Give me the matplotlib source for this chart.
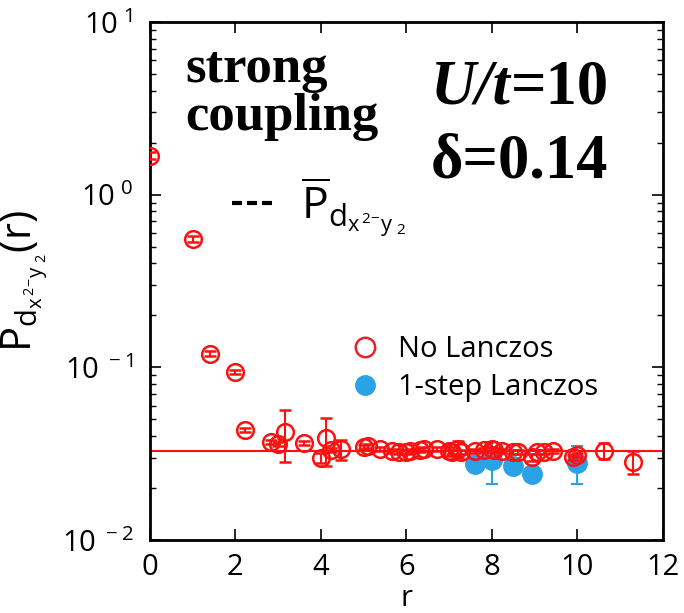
import matplotlib
matplotlib.use("Agg")
import matplotlib.pyplot as plt
from matplotlib.lines import Line2D

plt.rcParams['font.family'] = ['Open Sans', 'DejaVu Sans']
plt.rcParams['mathtext.fontset'] = 'custom'
plt.rcParams['mathtext.rm'] = 'Open Sans'
plt.rcParams['mathtext.it'] = 'Open Sans'

# No Lanczos data
r_no = [0, 1, 1.414, 2, 2.236, 2.828, 3, 3.162, 3.606, 4, 4.123, 4.243, 4.472,
        5, 5.099, 5.385, 5.657, 5.831, 6, 6.083, 6.325, 6.403, 6.708, 7, 7.071,
        7.211, 7.280, 7.616, 7.810, 8, 8.062, 8.246, 8.485, 8.602, 8.944, 9.055,
        9.220, 9.434, 9.899, 10, 10.630, 11.314]
p_no = [1.68, 0.554, 0.120, 0.094, 0.0434, 0.0370, 0.0360, 0.0423, 0.0365, 0.0299,
        0.0390, 0.0333, 0.0337, 0.0345, 0.0350, 0.0337, 0.0328, 0.0324, 0.0324,
        0.0328, 0.0333, 0.0337, 0.0337, 0.0328, 0.0324, 0.0337, 0.0324, 0.0328,
        0.0333, 0.0337, 0.0333, 0.0328, 0.0324, 0.0324, 0.0302, 0.0324, 0.0324,
        0.0328, 0.0302, 0.0311, 0.0328, 0.0283]
e_no = [0.08, 0.02, 0.004, 0.003, 0.001, 0.001, 0.001, 0.014, 0.001, 0.002,
        0.012, 0.001, 0.0045, 0.001, 0.001, 0.001, 0.001, 0.001, 0.001, 0.001,
        0.001, 0.001, 0.001, 0.002, 0.001, 0.004, 0.001, 0.001, 0.001, 0.001,
        0.001, 0.001, 0.001, 0.001, 0.0015, 0.001, 0.001, 0.001, 0.001, 0.001,
        0.0035, 0.0043]

# 1-step Lanczos data
r_lz = [7.616, 8.0, 8.485, 8.944, 10.0]
p_lz = [0.0276, 0.0290, 0.0268, 0.0241, 0.0280]
e_lz = [0.001, 0.008, 0.001, 0.001, 0.007]

p_bar = 0.033

red = '#ff1010'
blue = '#2aa3e6'

fig = plt.figure(figsize=(6.84, 6.13), dpi=100)
ax = fig.add_axes([0.219, 0.119, 0.75, 0.845])

ax.axhline(p_bar, color=red, lw=1.5, zorder=1)
ax.errorbar(r_no, p_no, yerr=e_no, fmt='o', ms=12, mfc='none', mec=red, mew=1.8,
            ecolor=red, elinewidth=1.5, capsize=4, capthick=1.5, zorder=3)
ax.errorbar(r_lz, p_lz, yerr=e_lz, fmt='o', ms=14, mfc=blue, mec=blue,
            ecolor=blue, elinewidth=1.5, capsize=4, capthick=1.5, zorder=2)

ax.set_yscale('log')
ax.set_xlim(0, 12)
ax.set_ylim(1e-2, 1e1)
ax.set_xticks([0, 2, 4, 6, 8, 10, 12])
ax.set_yticks([1e-2, 1e-1, 1e0, 1e1])
ax.set_yticklabels([r'$10^{\ -2}$', r'$10^{\ -1}$', r'$10^{\ 0}$', r'$10^{\ 1}$'])
ax.tick_params(which='both', direction='in', top=True, right=True, labelsize=21)
ax.tick_params(which='major', length=8, width=1.2)
ax.tick_params(axis='y', which='major', pad=12)
ax.tick_params(axis='x', which='major', pad=9)
ax.tick_params(which='minor', length=4, width=1)
for s in ax.spines.values():
    s.set_linewidth(2)

ax.set_xlabel('r', fontsize=21, labelpad=2)
ax.set_ylabel(r'$\mathrm{P}_{\mathrm{d}_{\mathrm{x}^{\,2\!-\!}\mathrm{y}_{\ 2}}}\mathrm{(r)}$',
              fontsize=30, labelpad=8)

serif = 'Liberation Serif'
ax.text(0.07, 0.955, 'strong\ncoupling', transform=ax.transAxes, fontsize=38,
        fontweight='bold', family=serif, va='top', ha='left',
        linespacing=1.0)
t_ut = ax.text(0.548, 0.815, 'U/t', transform=ax.transAxes, fontsize=45,
               fontweight='bold', fontstyle='italic', family=serif,
               ha='left', va='bottom')
ax.annotate('=10', xy=(1, 0), xycoords=t_ut, fontsize=45, fontweight='bold',
            family=serif, ha='left', va='bottom')
ax.text(0.548, 0.672, 'δ=0.14', transform=ax.transAxes, fontsize=45,
        fontweight='bold', family=serif, ha='left', va='bottom')

# dashed P-bar key
h_bar = [Line2D([], [], color='black', ls=(0, (2.4, 1.2)), lw=3)]
leg1 = ax.legend(h_bar, [r'$\overline{\mathrm{P}}_{\mathrm{d}_{\mathrm{x}^{\,2\!-\!}\mathrm{y}_{\ 2}}}$'],
                 loc='upper left', bbox_to_anchor=(0.16, 0.705), frameon=False,
                 fontsize=32, handlelength=0.9, handletextpad=0.65,
                 borderpad=0, borderaxespad=0)
ax.add_artist(leg1)

h_pts = [Line2D([], [], marker='o', ls='none', ms=14, mfc='none', mec='#e3232b', mew=1.8),
         Line2D([], [], marker='o', ls='none', ms=14, mfc=blue, mec=blue)]
ax.legend(h_pts, ['No Lanczos', '1-step Lanczos'], loc='upper left',
          bbox_to_anchor=(0.385, 0.395), frameon=False, fontsize=21,
          handletextpad=0.55, labelspacing=0.3, handlelength=1.2,
          borderpad=0, borderaxespad=0)

fig.savefig('out.png', dpi=100)
